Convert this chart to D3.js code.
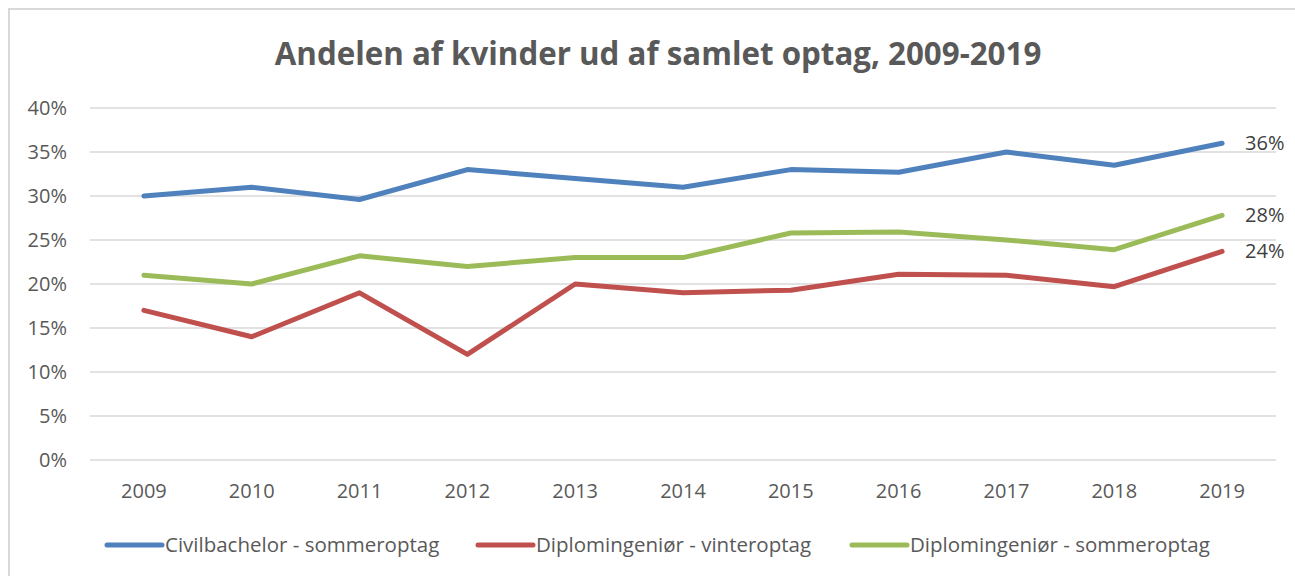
<!DOCTYPE html>
<html>
<head>
<meta charset="utf-8">
<script src="https://cdn.jsdelivr.net/npm/d3@7"></script>
<style>
  body { margin: 0; background: #fff; }
  svg { display: block; }
</style>
</head>
<body>
<div id="chart"></div>
<script>
const years = ["2009", "2010", "2011", "2012", "2013", "2014", "2015", "2016", "2017", "2018", "2019"];
const civilSommer = [30.0, 31.0, 29.6, 33.0, 32.0, 31.0, 33.0, 32.7, 35.0, 33.5, 36.0];
const diplomVinter = [17.0, 14.0, 19.0, 12.0, 20.0, 19.0, 19.3, 21.1, 21.0, 19.7, 23.7];
const diplomSommer = [21.0, 20.0, 23.2, 22.0, 23.0, 23.0, 25.8, 25.9, 25.0, 23.9, 27.8];
const seriesNames = ["Civilbachelor - sommeroptag", "Diplomingeniør - vinteroptag", "Diplomingeniør - sommeroptag"];
const yTicks = [0, 5, 10, 15, 20, 25, 30, 35, 40];
const title = "Andelen af kvinder ud af samlet optag, 2009-2019";

const series = [
  { name: seriesNames[0], values: civilSommer, color: "#4f81bd" },
  { name: seriesNames[1], values: diplomVinter, color: "#c0504d" },
  { name: seriesNames[2], values: diplomSommer, color: "#9bbb59" }
];

const width = 1295, height = 576;
const font = "'Open Sans', sans-serif";

const svg = d3.select("#chart").append("svg")
  .attr("width", width)
  .attr("height", height);

// outer chart border (runs off the right and bottom edges)
svg.append("rect")
  .attr("x", 9).attr("y", 9)
  .attr("width", 1300).attr("height", 600)
  .attr("fill", "#fff")
  .attr("stroke", "#d9d9d9")
  .attr("stroke-width", 2);

svg.append("text")
  .attr("x", 658).attr("y", 65)
  .attr("text-anchor", "middle")
  .attr("fill", "#595959")
  .attr("font-family", font)
  .attr("font-size", "31.3px")
  .attr("font-weight", "bold")
  .text(title);

const x = d3.scaleBand().domain(years).range([90, 1276]);
const y = d3.scaleLinear().domain([0, 40]).range([460, 108]);

// gridlines
svg.append("g")
  .selectAll("line")
  .data(yTicks)
  .enter()
  .append("line")
  .attr("x1", 90).attr("x2", 1276)
  .attr("y1", (d) => y(d)).attr("y2", (d) => y(d))
  .attr("stroke", "#d9d9d9")
  .attr("stroke-width", 1.5);

// y labels
svg.append("g")
  .selectAll("text")
  .data(yTicks)
  .enter()
  .append("text")
  .attr("x", 67)
  .attr("y", (d) => y(d))
  .attr("dy", "0.35em")
  .attr("text-anchor", "end")
  .attr("fill", "#595959")
  .attr("font-family", font)
  .attr("font-size", "20px")
  .text((d) => d + "%");

// x labels
svg.append("g")
  .selectAll("text")
  .data(years)
  .enter()
  .append("text")
  .attr("x", (d) => x(d) + x.bandwidth() / 2)
  .attr("y", 491)
  .attr("dy", "0.35em")
  .attr("text-anchor", "middle")
  .attr("fill", "#595959")
  .attr("font-family", font)
  .attr("font-size", "20px")
  .text((d) => d);

const line = d3.line()
  .x((d, i) => x(years[i]) + x.bandwidth() / 2)
  .y((d) => y(d));

svg.append("g")
  .selectAll("path")
  .data(series)
  .enter()
  .append("path")
  .attr("d", (d) => line(d.values))
  .attr("fill", "none")
  .attr("stroke", (d) => d.color)
  .attr("stroke-width", 5)
  .attr("stroke-linecap", "round")
  .attr("stroke-linejoin", "round");

// end labels (civil, vinter, sommer)
const last = years.length - 1;
svg.append("g")
  .selectAll("text")
  .data(series)
  .enter()
  .append("text")
  .attr("x", x(years[last]) + x.bandwidth() / 2 + 23)
  .attr("y", (d) => y(d.values[last]))
  .attr("dy", "0.35em")
  .attr("fill", "#404040")
  .attr("font-family", font)
  .attr("font-size", "20px")
  .text((d) => Math.round(d.values[last]) + "%");

// legend
const legendX = [107, 478, 852];
const legend = svg.append("g")
  .selectAll("g")
  .data(series)
  .enter()
  .append("g")
  .attr("transform", (d, i) => `translate(${legendX[i]},545)`);

legend.append("line")
  .attr("x1", 0).attr("x2", 55)
  .attr("stroke", (d) => d.color)
  .attr("stroke-width", 5)
  .attr("stroke-linecap", "round");

legend.append("text")
  .attr("x", 58)
  .attr("dy", "0.35em")
  .attr("fill", "#595959")
  .attr("font-family", font)
  .attr("font-size", "20.5px")
  .text((d) => d.name);
</script>
</body>
</html>
